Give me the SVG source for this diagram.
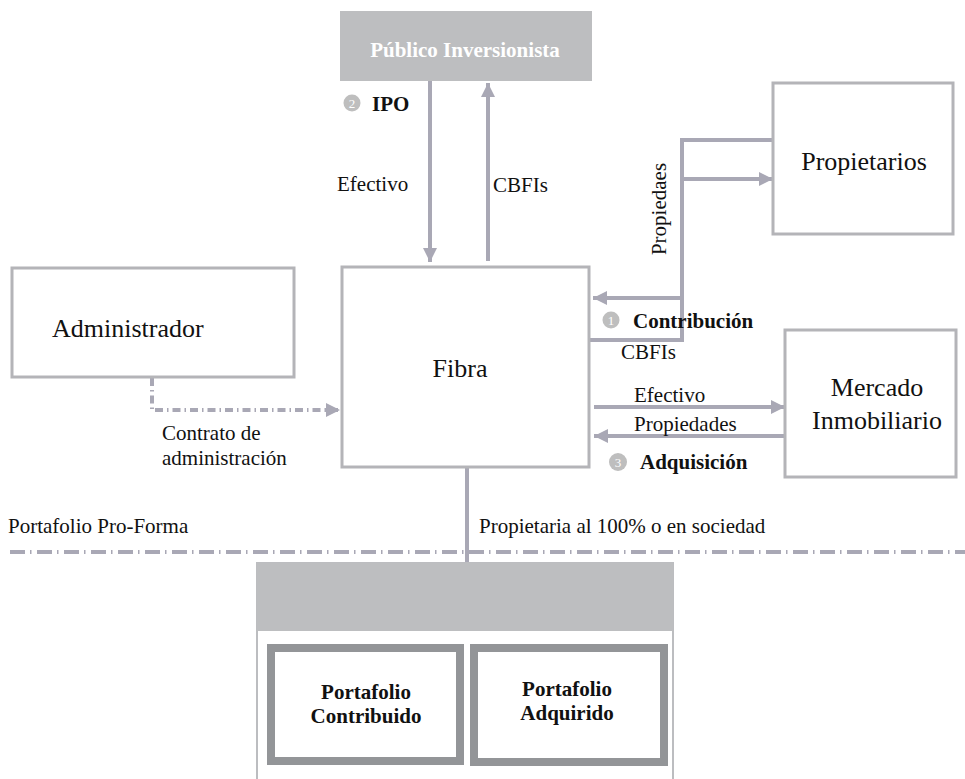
<svg xmlns="http://www.w3.org/2000/svg" width="965" height="779" viewBox="0 0 965 779">
<style>
.box{fill:#fff;stroke:#b4b4b8;stroke-width:3}
.ln{fill:none;stroke:#a9a8b5;stroke-width:4}
text{font-family:'Liberation Serif','Times New Roman',Times,serif}
.t{fill:#111;font-size:21px}
.L{font-size:26px}
.b{font-weight:bold}
.num{fill:#bebebe}
.numt{font-size:13px;fill:#fff;text-anchor:middle}
.inner{fill:#fff;stroke:#939598;stroke-width:8}
</style>
<defs>
<marker id="ah" markerUnits="userSpaceOnUse" markerWidth="16" markerHeight="16" refX="14" refY="8" orient="auto">
<path d="M0,1 L14,8 L0,15 Z" fill="#a9a8b5"/>
</marker>
</defs>
<rect width="965" height="779" fill="#fff"/>

<g id="connectors">
<line class="ln" x1="430" y1="81" x2="430" y2="262" marker-end="url(#ah)"/>
<line class="ln" x1="488" y1="261" x2="488" y2="83" marker-end="url(#ah)"/>
<polyline class="ln" points="773,140 682,140 682,340 590,340"/>
<line class="ln" x1="682" y1="179" x2="773" y2="179" marker-end="url(#ah)"/>
<line class="ln" x1="682" y1="298" x2="593" y2="298" marker-end="url(#ah)"/>
<line class="ln" x1="594" y1="407" x2="785" y2="407" marker-end="url(#ah)"/>
<line class="ln" x1="785" y1="436" x2="594" y2="436" marker-end="url(#ah)"/>
<polyline fill="none" stroke="#a9a8b5" stroke-width="4" stroke-dasharray="8 4 1.5 4" points="152,378 152,410 340,410" marker-end="url(#ah)"/>
<line class="ln" x1="467" y1="468" x2="467" y2="563"/>
<line stroke="#a9a8b5" stroke-width="4" stroke-dasharray="15 5 1.5 5.5" x1="10" y1="552" x2="965" y2="552"/>
</g>

<g id="publico">
<rect x="340" y="11" width="252" height="70" fill="#bdbec0"/>
<text class="b" x="465" y="57" font-size="21" text-anchor="middle" fill="#fff">Público Inversionista</text>
</g>

<g id="fibra">
<rect class="box" x="342" y="267" width="247" height="200"/>
<text class="t L" x="460" y="377" text-anchor="middle">Fibra</text>
</g>

<g id="propietarios">
<rect class="box" x="773" y="83" width="180" height="151"/>
<text class="t L" x="864" y="170" text-anchor="middle">Propietarios</text>
</g>

<g id="administrador">
<rect class="box" x="12" y="268" width="282" height="109"/>
<text class="t L" x="52" y="337">Administrador</text>
</g>

<g id="mercado">
<rect class="box" x="785" y="330" width="171" height="147"/>
<text class="t L" x="877" y="396" text-anchor="middle">Mercado</text>
<text class="t L" x="877" y="429" text-anchor="middle">Inmobiliario</text>
</g>

<g id="labels">
<circle class="num" cx="352" cy="103" r="8.5"/>
<text class="numt" x="352" y="108">2</text>
<text class="t b" x="372" y="111">IPO</text>
<text class="t" x="337" y="191">Efectivo</text>
<text class="t" x="493" y="192">CBFIs</text>
<text class="t" x="666" y="209" text-anchor="middle" transform="rotate(-90 666 209)">Propiedaes</text>
<circle class="num" cx="611" cy="320" r="8.5"/>
<text class="numt" x="611" y="325">1</text>
<text class="t b" x="633" y="328">Contribución</text>
<text class="t" x="621" y="359">CBFIs</text>
<text class="t" x="634" y="402">Efectivo</text>
<text class="t" x="634" y="431">Propiedades</text>
<circle class="num" cx="618" cy="462" r="9"/>
<text class="numt" x="618" y="467">3</text>
<text class="t b" x="640" y="469">Adquisición</text>
<text class="t" x="162" y="440">Contrato de</text>
<text class="t" x="162" y="465">administración</text>
<text class="t" x="8" y="533">Portafolio Pro-Forma</text>
<text class="t" x="479" y="533">Propietaria al 100% o en sociedad</text>
</g>

<g id="portafolio">
<rect x="257" y="563" width="416" height="230" fill="#fff" stroke="#bcbdc0" stroke-width="2"/>
<rect x="257" y="563" width="416" height="68" fill="#bdbec0"/>
</g>

<g id="contribuido">
<rect class="inner" x="271" y="648" width="189" height="113"/>
<text class="t b" x="366" y="699" text-anchor="middle">Portafolio</text>
<text class="t b" x="366" y="723" text-anchor="middle">Contribuido</text>
</g>

<g id="adquirido">
<rect class="inner" x="474" y="648" width="190" height="114"/>
<text class="t b" x="567" y="696" text-anchor="middle">Portafolio</text>
<text class="t b" x="567" y="720" text-anchor="middle">Adquirido</text>
</g>
</svg>
